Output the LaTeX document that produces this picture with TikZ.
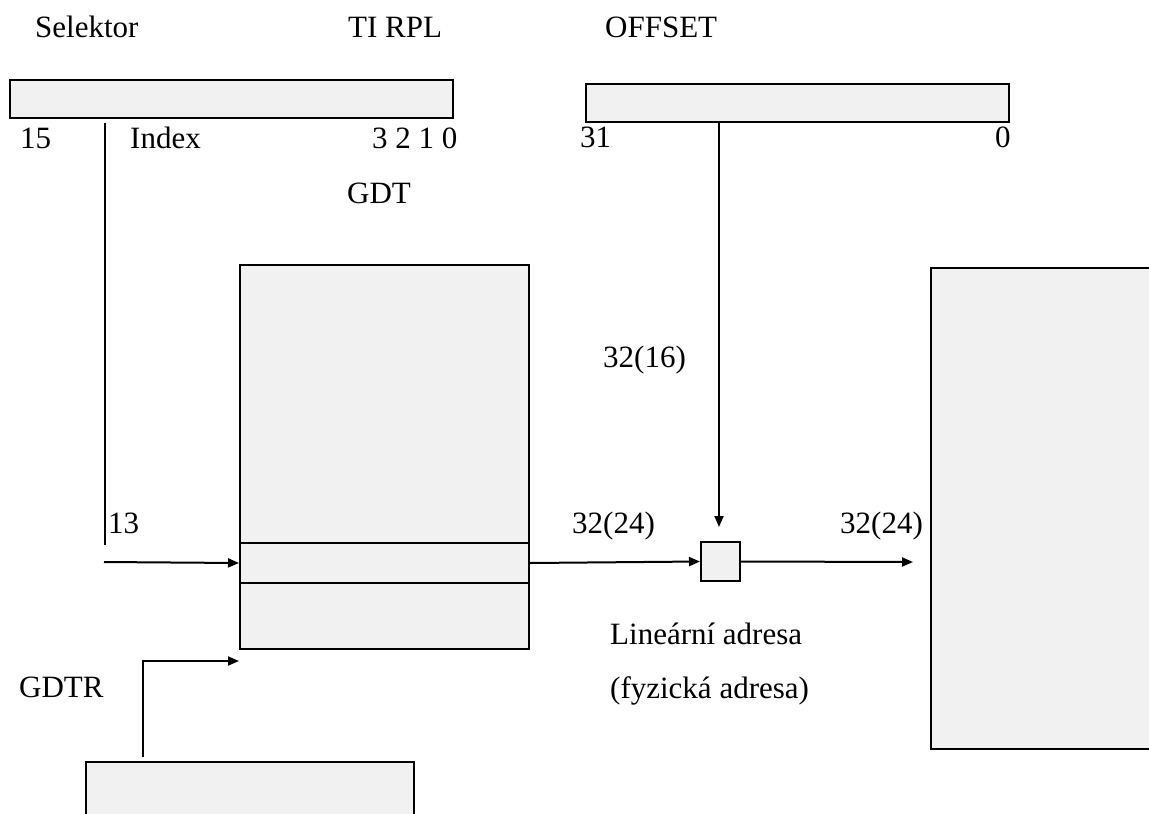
\documentclass[tikz,border=0pt]{standalone}
\usepackage{fontspec}
\setmainfont{Liberation Serif}
\usetikzlibrary{arrows.meta}
\definecolor{boxgray}{HTML}{F1F1F1}
\begin{document}
\begin{tikzpicture}[x=1pt,y=-1pt,
  box/.style={draw=black, fill=boxgray, line width=2pt, inner sep=0pt, anchor=north west},
  lbl/.style={anchor=base west, inner sep=0pt, font=\fontsize{31}{37}\selectfont},
  conn/.style={line width=2pt},
  arr/.style={line width=2pt, -{Triangle[length=11pt,width=9pt]}}]
\useasboundingbox (0,0) rectangle (1149,814);
\clip (0,0) rectangle (1149,814);
\fill[white] (0,0) rectangle (1149,814);

% boxes
\node[box, minimum width=443pt, minimum height=38pt] (sel) at (8.5,78.5) {};
\node[box, minimum width=423pt, minimum height=38pt] (off) at (585,83) {};
\node[box, minimum width=289pt, minimum height=384pt] (gdt) at (239,264) {};
\node[box, minimum width=289pt, minimum height=40pt] (entry) at (239,542) {};
\node[box, minimum width=39pt, minimum height=39pt] (sq) at (700,541) {};
\node[box, minimum width=240pt, minimum height=481pt] (mem) at (930,267) {};
\node[box, minimum width=328pt, minimum height=80pt] (gdtrbox) at (85,761) {};

% labels
\node[lbl] (tsel) at (35,37) {Selektor};
\node[lbl] (tti) at (348,37) {TI RPL};
\node[lbl] (toff) at (605,37) {OFFSET};
\node[lbl] (t15) at (20,148) {15};
\node[lbl] (tidx) at (130,148) {Index};
\node[lbl] (t3210) at (372,148) {3 2 1 0};
\node[lbl] (t31) at (580,147) {31};
\node[lbl] (t0) at (995,147) {0};
\node[lbl] (tgdt) at (347,203) {GDT};
\node[lbl] (t3216) at (603,367) {32(16)};
\node[lbl] (t13) at (108,533) {13};
\node[lbl] (t3224a) at (572,533) {32(24)};
\node[lbl] (t3224b) at (840,533) {32(24)};
\node[lbl] (tlin) at (610,644) {Lineární adresa};
\node[lbl] (tfyz) at (610,698) {(fyzická adresa)};
\node[lbl] (tgdtr) at (19,697) {GDTR};

% coordinates
\coordinate (idxtop) at (105,123);
\coordinate (idxbot) at (105,545);
\coordinate (idxin) at (104,562);
\coordinate (offtop) at (719,121);
\coordinate (offend) at (719,527);
\coordinate (outend) at (913,562);
\coordinate (gdtrstart) at (143,757);
\coordinate (gdtrend) at (239,661);

% connectors
\draw[conn] (idxtop) -- (idxbot);
\draw[arr] (idxin) -- (entry.west);
\draw[arr] (entry.east) -- (sq.west);
\draw[arr] (sq.east) -- (outend);
\draw[arr] (offtop) -- (offend);
\draw[arr] (gdtrstart) |- (gdtrend);
\end{tikzpicture}
\end{document}
